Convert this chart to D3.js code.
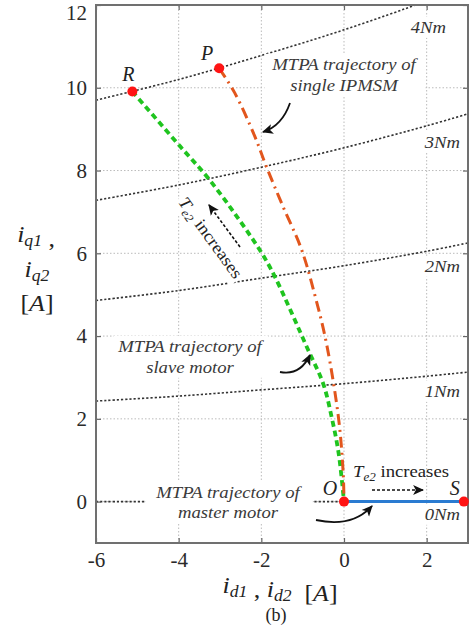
<!DOCTYPE html>
<html>
<head>
<meta charset="utf-8">
<script src="https://cdn.jsdelivr.net/npm/d3@7"></script>
<style>
  body { margin: 0; background: #fff; }
  text { font-family: "Liberation Serif", "Times New Roman", serif; }
</style>
</head>
<body>
<script>
// Chart frame
var width = 471,
  height = 629;

// Axis ticks
var xTicks = [-6, -4, -2, 0, 2];
var yTicks = [0, 2, 4, 6, 8, 10, 12];

// Constant torque curves
var torqueLabels = ["0Nm", "1Nm", "2Nm", "3Nm", "4Nm"];
var torqueId = [-6, -4, -2, 0, 2, 3];
var torque0 = [0, 0, 0, 0, 0, 0];
var torque1 = [2.43, 2.55, 2.70, 2.85, 3.03, 3.13];
var torque2 = [4.86, 5.10, 5.40, 5.70, 6.05, 6.25];
var torque3 = [7.28, 7.65, 8.08, 8.55, 9.08, 9.37];
var torque4 = [9.70, 10.20, 10.78, 11.40, 12.10, 12.50];

// MTPA trajectories
var slaveId = [-5.12, -3.97, -3.29, -2.60, -2.00, -1.68, -0.87, -0.50, -0.29, -0.13, 0];
var slaveIq = [9.91, 8.59, 7.82, 6.90, 6.02, 5.45, 3.67, 2.84, 2.00, 1.17, 0];
var singleId = [-3.02, -2.64, -2.16, -1.88, -1.48, -1.03, -0.70, -0.42, -0.13, -0.02, 0];
var singleIq = [10.47, 9.87, 8.83, 8.10, 7.14, 6.10, 4.97, 3.80, 2.00, 0.70, 0];
var masterId = [0, 2.9];
var masterIq = [0, 0];

// Marked points
var pointNames = ["R", "P", "O", "S"];
var pointId = [-5.12, -3.02, 0, 2.9];
var pointIq = [9.91, 10.47, 0, 0];

var svg = d3.select("body")
  .append("svg")
  .attr("width", width)
  .attr("height", height);

var x = d3.scaleLinear().domain([-6, 3]).range([96, 468]);
var y = d3.scaleLinear().domain([-1, 12]).range([543, 5]);

var defs = svg.append("defs");
defs.append("clipPath")
  .attr("id", "plot")
  .append("rect")
  .attr("x", x(-6)).attr("y", y(12))
  .attr("width", x(3) - x(-6)).attr("height", y(-1) - y(12));

defs.append("marker")
  .attr("id", "head")
  .attr("viewBox", "0 -5 10 10")
  .attr("refX", 9).attr("refY", 0)
  .attr("markerUnits", "userSpaceOnUse")
  .attr("markerWidth", 11).attr("markerHeight", 11)
  .attr("orient", "auto")
  .append("path")
  .attr("d", "M0,-4.5L10,0L0,4.5L2.5,0Z")
  .attr("fill", "#111");

// Grid
var grid = svg.append("g");
grid.selectAll(".gx")
  .data(xTicks.slice(1))
  .enter().append("line")
  .attr("x1", d => x(d)).attr("x2", d => x(d))
  .attr("y1", y(-1)).attr("y2", y(12))
  .attr("stroke", "#bbb").attr("stroke-dasharray", "1.5,2");
grid.selectAll(".gy")
  .data(yTicks.slice(0, -1))
  .enter().append("line")
  .attr("x1", x(-6)).attr("x2", x(3))
  .attr("y1", d => y(d)).attr("y2", d => y(d))
  .attr("stroke", "#bbb").attr("stroke-dasharray", "1.5,2");

// Torque curves
var torqueSeries = [torque0, torque1, torque2, torque3, torque4];
var line = d3.line()
  .x(d => x(d[0]))
  .y(d => y(d[1]));
var smooth = d3.line()
  .x(d => x(d[0]))
  .y(d => y(d[1]))
  .curve(d3.curveCatmullRom);

svg.append("g")
  .attr("clip-path", "url(#plot)")
  .selectAll("path")
  .data(torqueSeries)
  .enter().append("path")
  .attr("d", s => smooth(torqueId.map((v, i) => [v, s[i]])))
  .attr("fill", "none")
  .attr("stroke", "#333")
  .attr("stroke-width", 1.6)
  .attr("stroke-dasharray", "2.2,2");

// Axes (inward ticks on all sides)
function styleAxis(g) {
  g.select(".domain").remove();
  g.selectAll(".tick line").attr("stroke", "#666").attr("stroke-width", 1.2);
  g.selectAll(".tick text")
    .attr("fill", "#2a2a2a")
    .style("font-size", "21px")
    .style("font-family", "'Liberation Serif', serif");
}
var fmt = d => String(d);
svg.append("g")
  .attr("transform", "translate(0," + y(-1) + ")")
  .call(d3.axisBottom(x).tickValues(xTicks).tickFormat(fmt).tickSizeInner(-5).tickSizeOuter(0).tickPadding(9))
  .call(styleAxis);
svg.append("g")
  .attr("transform", "translate(0," + y(12) + ")")
  .call(d3.axisTop(x).tickValues(xTicks).tickSizeInner(-5).tickSizeOuter(0).tickFormat(""))
  .call(styleAxis);
svg.append("g")
  .attr("transform", "translate(" + x(-6) + ",0)")
  .call(d3.axisLeft(y).tickValues(yTicks).tickFormat(fmt).tickSizeInner(-5).tickSizeOuter(0).tickPadding(9))
  .call(styleAxis);
svg.append("g")
  .attr("transform", "translate(" + x(3) + ",0)")
  .call(d3.axisRight(y).tickValues(yTicks).tickSizeInner(-5).tickSizeOuter(0).tickFormat(""))
  .call(styleAxis);
svg.selectAll(".tick text").filter(function(d) { return d === 12; }).attr("dy", "0.68em");

svg.append("rect")
  .attr("x", x(-6)).attr("y", y(12))
  .attr("width", x(3) - x(-6)).attr("height", y(-1) - y(12))
  .attr("fill", "none")
  .attr("stroke", "#707070")
  .attr("stroke-width", 2);

// Text with a white box behind it
function note(px, py, lines, opts) {
  opts = opts || {};
  var g = svg.append("g").attr("transform", "translate(" + px + "," + py + ") scale(1.1,1)");
  var t = g.append("text")
    .attr("text-anchor", opts.anchor || "middle")
    .attr("fill", opts.fill || "#3a3a3a")
    .style("font-size", (opts.size || 17) + "px")
    .style("font-style", "italic");
  lines.forEach(function(l, i) {
    t.append("tspan").attr("x", 0).attr("dy", i === 0 ? 0 : (opts.lead || 21)).text(l);
  });
  var b = t.node().getBBox();
  var p = opts.pad || 3;
  g.insert("rect", "text")
    .attr("x", b.x - p).attr("y", b.y - 1)
    .attr("width", b.width + 2 * p).attr("height", b.height + 2)
    .attr("fill", "#fff");
  return g;
}

note(344, 70, ["MTPA trajectory of", "single IPMSM"], {pad: 6});
note(190, 352, ["MTPA trajectory of", "slave motor"], {pad: 3});
note(228, 498, ["MTPA trajectory of", "master motor"], {pad: 9, lead: 20});

var tqPos = [[460, 520], [460, 397], [460, 272], [460, 148], [446, 33]];
torqueLabels.forEach(function(l, i) {
  note(tqPos[i][0], tqPos[i][1], [l], {anchor: "end", size: 17, pad: 2, fill: "#333"});
});

// "Te2 increases" labels
function te2(g, size) {
  var t = g.append("text")
    .attr("text-anchor", "middle")
    .attr("fill", "#222")
    .style("font-size", size + "px");
  t.append("tspan").style("font-style", "italic").text("T");
  t.append("tspan").style("font-style", "italic").style("font-size", (size * 0.7) + "px").attr("dy", 4).text("e2");
  t.append("tspan").attr("dy", -4).text(" increases");
  return t;
}
var rot = svg.append("g").attr("transform", "translate(206,241) rotate(54) scale(1.1,1)");
var rt = te2(rot, 17);
var rb = rt.node().getBBox();
rot.insert("rect", "text").attr("x", rb.x - 2).attr("y", rb.y).attr("width", rb.width + 4).attr("height", rb.height).attr("fill", "#fff");
var hor = svg.append("g").attr("transform", "translate(401,477) scale(1.1,1)");
te2(hor, 17);

// MTPA trajectories
var plotArea = svg.append("g").attr("clip-path", "url(#plot)");
plotArea.append("path")
  .attr("d", line(masterId.map((v, i) => [v, masterIq[i]])))
  .attr("fill", "none")
  .attr("stroke", "#2a7bd1")
  .attr("stroke-width", 3);
plotArea.append("path")
  .attr("d", smooth(slaveId.map((v, i) => [v, slaveIq[i]])))
  .attr("fill", "none")
  .attr("stroke", "#1fc41f")
  .attr("stroke-width", 3.8)
  .attr("stroke-dasharray", "6,4");
plotArea.append("path")
  .attr("d", smooth(singleId.map((v, i) => [v, singleIq[i]])))
  .attr("fill", "none")
  .attr("stroke", "#e2561d")
  .attr("stroke-width", 3)
  .attr("stroke-dasharray", "11,5,2,5");

// Points
svg.selectAll(".pt")
  .data(pointNames)
  .enter().append("circle")
  .attr("cx", (d, i) => x(pointId[i]))
  .attr("cy", (d, i) => y(pointIq[i]))
  .attr("r", 5)
  .attr("fill", "#ff1414");

var nameOffset = [[-4, -10], [-12, -8], [-14, -7], [-9, -7]];
svg.selectAll(".pn")
  .data(pointNames)
  .enter().append("text")
  .attr("x", (d, i) => x(pointId[i]) + nameOffset[i][0])
  .attr("y", (d, i) => y(pointIq[i]) + nameOffset[i][1])
  .attr("text-anchor", "middle")
  .attr("fill", "#222")
  .style("font-size", "20px")
  .style("font-style", "italic")
  .text(d => d);

// Arrows
function arrow(d, dashed) {
  svg.append("path")
    .attr("d", d)
    .attr("fill", "none")
    .attr("stroke", "#111")
    .attr("stroke-width", dashed ? 1.6 : 1.8)
    .attr("stroke-dasharray", dashed ? "3,2" : null)
    .attr("marker-end", "url(#head)");
}
arrow("M290,103 Q282,126 263,132");
arrow("M280,372 Q300,376 310,355");
arrow("M316,520 Q352,528 372,506");
arrow("M240,247 L209,205", true);
arrow("M372,490 L423,490", true);

// Axis titles
function sub(t, main, s, size) {
  t.append("tspan").style("font-style", "italic").text(main);
  t.append("tspan").style("font-style", "italic").style("font-size", (size * 0.68) + "px").attr("dy", 4).text(s);
  t.append("tspan").attr("dy", -4).text("");
}
var yl = svg.append("g").attr("fill", "#222").style("font-size", "24px");
var yl1 = yl.append("text").attr("transform", "translate(36,242) scale(1.08,1)").attr("text-anchor", "middle");
sub(yl1, "i", "q1", 24);
yl1.append("tspan").text(" ,");
var yl2 = yl.append("text").attr("transform", "translate(37,277) scale(1.08,1)").attr("text-anchor", "middle");
sub(yl2, "i", "q2", 24);
var yl3 = yl.append("text").attr("transform", "translate(37,311) scale(1.08,1)").attr("text-anchor", "middle");
yl3.append("tspan").text("[");
yl3.append("tspan").style("font-style", "italic").text("A");
yl3.append("tspan").text("]");

var xl = svg.append("text")
  .attr("transform", "translate(280,593) scale(1.08,1)")
  .attr("text-anchor", "middle")
  .attr("fill", "#222")
  .style("font-size", "24px");
sub(xl, "i", "d1", 24);
xl.append("tspan").text("\u00a0,\u00a0");
sub(xl, "i", "d2", 24);
xl.append("tspan").text("\u00a0\u00a0[");
xl.append("tspan").style("font-style", "italic").text("A");
xl.append("tspan").text("]");

svg.append("text")
  .attr("x", 276).attr("y", 621)
  .attr("text-anchor", "middle")
  .attr("fill", "#222")
  .style("font-size", "18px")
  .text("(b)");
</script>
</body>
</html>
